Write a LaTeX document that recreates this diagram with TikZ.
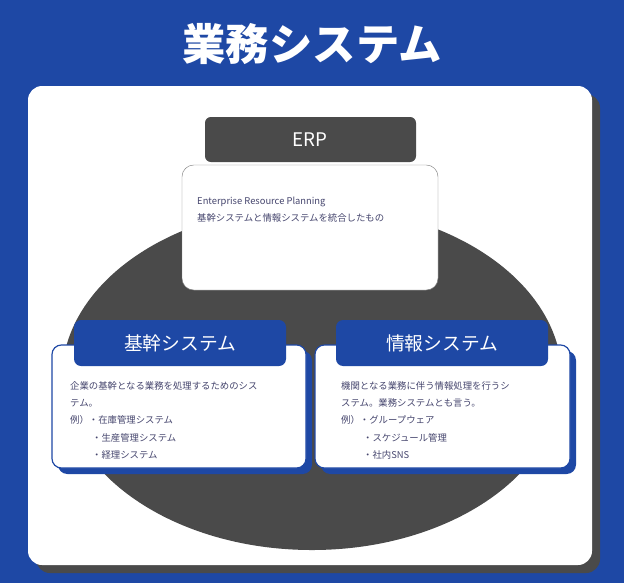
\documentclass[tikz,border=0pt]{standalone}
\usepackage{fontspec}
\setmainfont{Noto Sans CJK JP}
\definecolor{bgblue}{RGB}{30,72,165}
\definecolor{darkgr}{RGB}{74,74,74}
\definecolor{txtgr}{RGB}{70,70,110}
\tikzset{
  card/.style={draw=bgblue, line width=1pt, fill=white, rounded corners=8pt},
  shade/.style={fill=bgblue, rounded corners=8pt},
  head/.style={fill=bgblue, rounded corners=6pt},
  headtext/.style={text=white, font=\fontsize{16}{16}\selectfont},
  desc/.style={anchor=west, text=txtgr, font=\fontsize{8}{9}\selectfont, inner sep=0pt}
}
\begin{document}
\begin{tikzpicture}[x=0.03cm,y=-0.03cm]
\fill[bgblue] (0,0) rectangle (624,583);
\useasboundingbox (0,0) rectangle (624,583);
\node[text=white, font=\bfseries\fontsize{37}{37}\selectfont] (title) at (312,44) {業務システム};
% panel
\fill[darkgr, rounded corners=12pt] (36,94) rectangle (600,573);
\fill[white, rounded corners=12pt] (28,86) rectangle (592,565);
\fill[darkgr] (312,378) ellipse (250 and 172);
% ERP
\fill[darkgr, rounded corners=5pt] (205,117) rectangle (416,162);
\node[headtext] (erp) at (310,140) {ERP};
\draw[gray, fill=white, rounded corners=10pt] (182,165) rectangle (438,290);
\node[desc] (erp1) at (197,202) {Enterprise Resource Planning};
\node[desc] (erp2) at (197,218) {基幹システムと情報システムを統合したもの};
% left
\fill[shade] (58,351) rectangle (312,474);
\draw[card] (52,345) rectangle (306,468);
\fill[head] (74,320) rectangle (286,366);
\node[headtext] (kikan) at (180,343) {基幹システム};
\node[desc] (k1) at (70,386) {企業の基幹となる業務を処理するためのシス};
\node[desc] (k2) at (70,403) {テム。};
\node[desc] (k3) at (70,420) {例）・在庫管理システム};
\node[desc] (k4) at (92,438) {・生産管理システム};
\node[desc] (k5) at (92,455) {・経理システム};
% right
\fill[shade] (321,351) rectangle (576,474);
\draw[card] (315,345) rectangle (570,468);
\fill[head] (336,320) rectangle (548,366);
\node[headtext] (joho) at (442,343) {情報システム};
\node[desc] (j1) at (341,386) {機関となる業務に伴う情報処理を行うシ};
\node[desc] (j2) at (341,403) {ステム。業務システムとも言う。};
\node[desc] (j3) at (341,420) {例）・グループウェア};
\node[desc] (j4) at (363,438) {・スケジュール管理};
\node[desc] (j5) at (363,455) {・社内SNS};
\end{tikzpicture}
\end{document}
